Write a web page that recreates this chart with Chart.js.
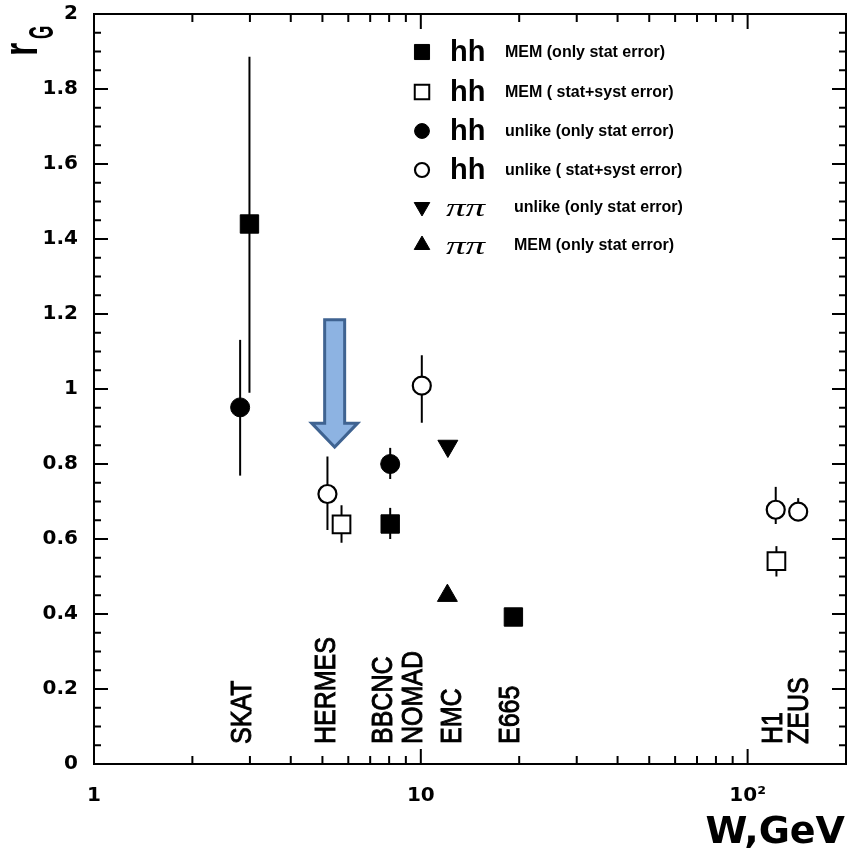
<!DOCTYPE html>
<html>
<head>
<meta charset="utf-8">
<script src="https://cdn.jsdelivr.net/npm/chart.js@4.4.1/dist/chart.umd.min.js"></script>
<style>
  html, body { margin: 0; padding: 0; background: #fff; }
</style>
</head>
<body>
<canvas id="rgChart" width="848" height="855"></canvas>
<script>
//------------------------------------------ DATA ------------------------------------------
// hh, MEM, only stat error (filled squares)
const memStatW = [2.99, 8.06, 19.2];
const memStatR = [1.44, 0.64, 0.392];
const memStatLo = [0.99, 0.60, null];
const memStatHi = [1.886, 0.683, null];

// hh, MEM, stat+syst error (open squares)
const memSystW = [5.72, 122.5];
const memSystR = [0.639, 0.541];
const memSystLo = [0.59, 0.50];
const memSystHi = [0.69, 0.581];

// hh, unlike, only stat error (filled circles)
const unlikeStatW = [2.8, 8.06];
const unlikeStatR = [0.951, 0.80];
const unlikeStatLo = [0.769, 0.76];
const unlikeStatHi = [1.131, 0.843];

// hh, unlike, stat+syst error (open circles)
const unlikeSystW = [5.18, 10.07, 121.9, 142.8];
const unlikeSystR = [0.72, 1.009, 0.678, 0.673];
const unlikeSystLo = [0.624, 0.91, 0.64, 0.65];
const unlikeSystHi = [0.82, 1.09, 0.739, 0.709];

// pi pi, unlike (down triangle) and MEM (up triangle)
const pipiUnlikeW = [12.1];
const pipiUnlikeR = [0.848];
const pipiUnlikeLo = [0.83];
const pipiUnlikeHi = [0.86];

const pipiMemW = [12.06];
const pipiMemR = [0.449];
const pipiMemLo = [0.435];
const pipiMemHi = [0.475];

// experiments written along the bottom, at their W
const expNames = ["SKAT", "HERMES", "BBCNC", "NOMAD", "EMC", "E665", "H1", "ZEUS"];
const expW = [2.8, 5.08, 7.59, 9.38, 12.27, 18.5, 118.5, 142.3];

// axis ticks
const xTickValues = [1, 2, 3, 4, 5, 6, 7, 8, 9, 10, 20, 30, 40, 50, 60, 70, 80, 90, 100, 200];
const xMajorValues = [1, 10, 100];
const xMajorLabels = ["1", "10", "10\u00B2"];

// legend rows
const legendParticles = ["hh", "hh", "hh", "hh", "\u03C0\u03C0", "\u03C0\u03C0"];
const legendTexts = [
  "MEM (only stat error)",
  "MEM ( stat+syst error)",
  "unlike (only stat error)",
  "unlike ( stat+syst error)",
  "unlike (only stat error)",
  "MEM (only stat error)",
];

//------------------------------------------ helpers ------------------------------------------
function toPoints(w, r, lo, hi) {
  return w.map((x, i) => ({ x: x, y: r[i], lo: lo[i], hi: hi[i] }));
}

function rotatedText(ctx, text, x, y, font, stretch, outline) {
  ctx.save();
  ctx.translate(x, y);
  ctx.rotate(-Math.PI / 2);
  ctx.scale(1, stretch);
  ctx.font = font;
  ctx.textAlign = "left";
  ctx.textBaseline = "alphabetic";
  ctx.fillText(text, 0, 0);
  if (outline) {
    ctx.lineWidth = outline;
    ctx.strokeText(text, 0, 0);
  }
  ctx.restore();
}

const BLACK = "#000";
const WHITE = "#fff";

const datasets = [
  { label: "hh MEM (only stat error)", data: toPoints(memStatW, memStatR, memStatLo, memStatHi),
    pointStyle: "rect", pointRadius: 13, backgroundColor: BLACK, borderColor: BLACK, borderWidth: 1 },
  { label: "hh MEM (stat+syst error)", data: toPoints(memSystW, memSystR, memSystLo, memSystHi),
    pointStyle: "rect", pointRadius: 12.5, backgroundColor: WHITE, borderColor: BLACK, borderWidth: 2 },
  { label: "hh unlike (only stat error)", data: toPoints(unlikeStatW, unlikeStatR, unlikeStatLo, unlikeStatHi),
    pointStyle: "circle", pointRadius: 9.5, backgroundColor: BLACK, borderColor: BLACK, borderWidth: 1 },
  { label: "hh unlike (stat+syst error)", data: toPoints(unlikeSystW, unlikeSystR, unlikeSystLo, unlikeSystHi),
    pointStyle: "circle", pointRadius: 9, backgroundColor: WHITE, borderColor: BLACK, borderWidth: 2.2 },
  { label: "pipi unlike (only stat error)", data: toPoints(pipiUnlikeW, pipiUnlikeR, pipiUnlikeLo, pipiUnlikeHi),
    pointStyle: "triangle", rotation: 180, pointRadius: 11.5, backgroundColor: BLACK, borderColor: BLACK, borderWidth: 1 },
  { label: "pipi MEM (only stat error)", data: toPoints(pipiMemW, pipiMemR, pipiMemLo, pipiMemHi),
    pointStyle: "triangle", pointRadius: 11.5, backgroundColor: BLACK, borderColor: BLACK, borderWidth: 1 },
];

//------------------------------------------ plugins ------------------------------------------
// vertical error bars, drawn under the markers
const errorBars = {
  id: "errorBars",
  beforeDatasetsDraw(chart) {
    const ctx = chart.ctx;
    const y = chart.scales.y;
    ctx.save();
    ctx.strokeStyle = BLACK;
    ctx.lineWidth = 2;
    chart.data.datasets.forEach((ds, di) => {
      const meta = chart.getDatasetMeta(di);
      ds.data.forEach((p, i) => {
        if (p.lo == null || p.hi == null) return;
        const px = meta.data[i].x;
        ctx.beginPath();
        ctx.moveTo(px, y.getPixelForValue(p.lo));
        ctx.lineTo(px, y.getPixelForValue(p.hi));
        ctx.stroke();
      });
    });
    ctx.restore();
  },
};

// blue arrow pointing at HERMES
const arrowW = 5.45, arrowTop = 1.185, arrowTip = 0.845;
const hermesArrow = {
  id: "hermesArrow",
  afterDatasetsDraw(chart) {
    const ctx = chart.ctx;
    const cx = chart.scales.x.getPixelForValue(arrowW);
    const top = chart.scales.y.getPixelForValue(arrowTop);
    const tip = chart.scales.y.getPixelForValue(arrowTip);
    const shaft = 10, head = 23, headLen = 24;
    ctx.save();
    ctx.beginPath();
    ctx.moveTo(cx - shaft, top);
    ctx.lineTo(cx + shaft, top);
    ctx.lineTo(cx + shaft, tip - headLen);
    ctx.lineTo(cx + head, tip - headLen);
    ctx.lineTo(cx, tip);
    ctx.lineTo(cx - head, tip - headLen);
    ctx.lineTo(cx - shaft, tip - headLen);
    ctx.closePath();
    ctx.fillStyle = "#8db3e2";
    ctx.fill();
    ctx.lineWidth = 3;
    ctx.lineJoin = "miter";
    ctx.strokeStyle = "#3f6391";
    ctx.stroke();
    ctx.restore();
  },
};

// experiment names, rotated, at the bottom of the plot
const expLabels = {
  id: "expLabels",
  afterDatasetsDraw(chart) {
    const ctx = chart.ctx;
    const capH = 0.716 * 25 * 1.2;
    ctx.save();
    ctx.fillStyle = BLACK;
    ctx.strokeStyle = BLACK;
    expNames.forEach((name, i) => {
      const px = chart.scales.x.getPixelForValue(expW[i]);
      rotatedText(ctx, name, px + capH / 2, 744, "25px 'Liberation Sans', Arial, sans-serif", 1.2, 0.8);
    });
    ctx.restore();
  },
};

// frame, inward ticks on all four sides, axis titles and the legend
const frameAndLegend = {
  id: "frameAndLegend",
  afterDraw(chart) {
    const ctx = chart.ctx;
    const a = chart.chartArea;
    const xs = chart.scales.x, ys = chart.scales.y;
    ctx.save();
    ctx.strokeStyle = BLACK;
    ctx.lineWidth = 2;
    ctx.strokeRect(a.left, a.top, a.right - a.left, a.bottom - a.top);

    ctx.beginPath();
    xTickValues.forEach(v => {
      const px = xs.getPixelForValue(v);
      if (px <= a.left + 1 || px >= a.right - 1) return;
      const len = xMajorValues.includes(v) ? 15 : 8;
      ctx.moveTo(px, a.bottom); ctx.lineTo(px, a.bottom - len);
      ctx.moveTo(px, a.top); ctx.lineTo(px, a.top + len);
    });
    for (let k = 1; k < 40; k++) {
      const v = k * 0.05;
      const py = ys.getPixelForValue(v);
      const len = k % 4 === 0 ? 14 : 7;
      ctx.moveTo(a.left, py); ctx.lineTo(a.left + len, py);
      ctx.moveTo(a.right, py); ctx.lineTo(a.right - len, py);
    }
    ctx.stroke();

    // axis titles
    ctx.fillStyle = BLACK;
    rotatedText(ctx, "r", 37, 56, "bold 34px 'Liberation Sans', Arial, sans-serif", 1.4);
    rotatedText(ctx, "G", 53, 39, "bold 17px 'Liberation Sans', Arial, sans-serif", 2.1);
    ctx.font = "bold 38px 'DejaVu Sans', sans-serif";
    ctx.textAlign = "right";
    ctx.textBaseline = "alphabetic";
    ctx.fillText("W,GeV", 845, 843);

    // legend
    const rowY = [52, 92, 131, 170, 207, 245];
    const markerX = 422;
    ctx.textBaseline = "middle";
    ctx.textAlign = "left";
    legendTexts.forEach((t, i) => {
      const ds = chart.data.datasets[i];
      const y = rowY[i];
      ctx.fillStyle = ds.backgroundColor;
      ctx.strokeStyle = ds.borderColor;
      ctx.lineWidth = ds.borderWidth;
      const r = ds.pointStyle === "rect" ? ds.pointRadius * 0.82 : ds.pointRadius * 0.78;
      Chart.helpers.drawPoint(ctx, { pointStyle: ds.pointStyle, rotation: ds.rotation || 0, radius: r, borderWidth: ds.borderWidth }, markerX, y);
      ctx.fillStyle = BLACK;
      if (i < 4) {
        ctx.font = "bold 29px 'Liberation Sans', Arial, sans-serif";
        ctx.fillText(legendParticles[i], 450, y + 1);
        ctx.font = "bold 16px 'Liberation Sans', Arial, sans-serif";
        ctx.fillText(t, 505, y + 1);
      } else {
        ctx.save();
        ctx.translate(446, y + 2);
        ctx.scale(1.5, 1);
        ctx.font = "italic 26px 'Liberation Serif', serif";
        ctx.fillText(legendParticles[i], 0, 0);
        ctx.restore();
        ctx.font = "bold 16px 'Liberation Sans', Arial, sans-serif";
        ctx.fillText(t, 514, y + 1);
      }
    });
    ctx.restore();
  },
};

//------------------------------------------ CHART ------------------------------------------
const tickFont = { family: "'DejaVu Sans', sans-serif", weight: "bold", size: 20 };

const rgChart = new Chart(document.getElementById("rgChart"), {
  type: "scatter",
  data: { datasets: datasets },
  options: {
    responsive: false,
    animation: false,
    layout: { autoPadding: false, padding: { top: 14, right: 2, left: 0, bottom: 0 } },
    plugins: {
      legend: { display: false },
      tooltip: { enabled: false },
    },
    scales: {
      x: {
        type: "logarithmic",
        min: 1,
        max: 200,
        grid: { display: false, drawTicks: false },
        border: { display: false },
        afterBuildTicks: s => { s.ticks = xTickValues.map(v => ({ value: v })); },
        afterFit: s => { s.height = 91; s.paddingLeft = 0; s.paddingRight = 0; },
        ticks: {
          autoSkip: false,
          maxRotation: 0,
          minRotation: 0,
          padding: 20,
          color: BLACK,
          font: tickFont,
          callback: v => {
            const i = xMajorValues.indexOf(v);
            return i < 0 ? "" : xMajorLabels[i];
          },
        },
      },
      y: {
        min: 0,
        max: 2,
        grid: { display: false, drawTicks: false },
        border: { display: false },
        afterFit: s => { s.width = 94; s.paddingTop = 0; s.paddingBottom = 0; },
        ticks: {
          stepSize: 0.2,
          padding: 16,
          color: BLACK,
          font: tickFont,
          callback: v => String(+v.toFixed(1)),
        },
      },
    },
  },
  plugins: [errorBars, hermesArrow, expLabels, frameAndLegend],
});
</script>
</body>
</html>
